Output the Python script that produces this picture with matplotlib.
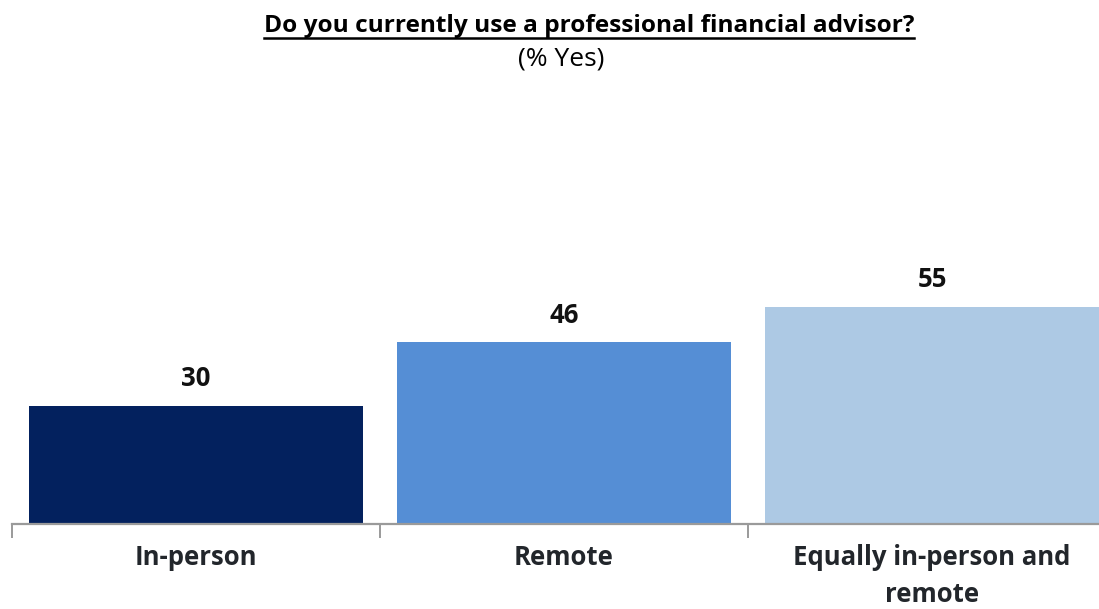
import matplotlib
matplotlib.use('Agg')
import matplotlib.pyplot as plt
from matplotlib.lines import Line2D

# Data
categories = ['In-person', 'Remote', 'Equally in-person and\nremote']
values = [30, 46, 55]
colors = ['#03215E', '#558ED5', '#ADC9E4']

plt.rcParams['font.family'] = ['Open Sans', 'DejaVu Sans']

fig = plt.figure(figsize=(10.99, 6.09), dpi=100)
W, H = 1099, 609
# axes spans three category slots of 368 px starting at x=12
ax = fig.add_axes([12 / W, (H - 524) / H, 1104 / W, 393 / H])

x = range(len(values))
bars = ax.bar(x, values, width=0.905, color=colors, zorder=2)
ax.set_xlim(-0.5, 2.5)
ax.set_ylim(0, 99.5)

for xi, v in zip(x, values):
    ax.text(xi, v + 6.8, str(v), ha='center', va='center', fontsize=18.5,
            fontweight='bold', color='#111111')

for s in ['top', 'right', 'left']:
    ax.spines[s].set_visible(False)
ax.spines['bottom'].set_color('#9A9A9A')
ax.spines['bottom'].set_linewidth(1.6)
ax.set_yticks([])
ax.set_xticks([-0.5, 0.5, 1.5, 2.5])
ax.set_xticklabels([])
ax.tick_params(axis='x', length=10, width=1.4, color='#9A9A9A')

for xi, lab in zip(x, categories):
    ax.text(xi, -5.0, lab, ha='center', va='top', fontsize=18.5,
            fontweight='bold', color='#22262B', linespacing=1.5)

title = fig.text(589 / W, 1 - 26 / H, 'Do you currently use a professional financial advisor?',
                 ha='center', va='center', fontsize=17.6, fontweight='bold', color='#000000')
fig.text(561 / W, 1 - 59 / H, '(% Yes)', ha='center', va='center', fontsize=19, color='#000000')

fig.canvas.draw()
bb = title.get_window_extent()
fig.add_artist(Line2D([bb.x0 / W, bb.x1 / W], [bb.y0 / H, bb.y0 / H],
                      transform=fig.transFigure, color='black', lw=1.8))

fig.savefig('out.png', dpi=100)
